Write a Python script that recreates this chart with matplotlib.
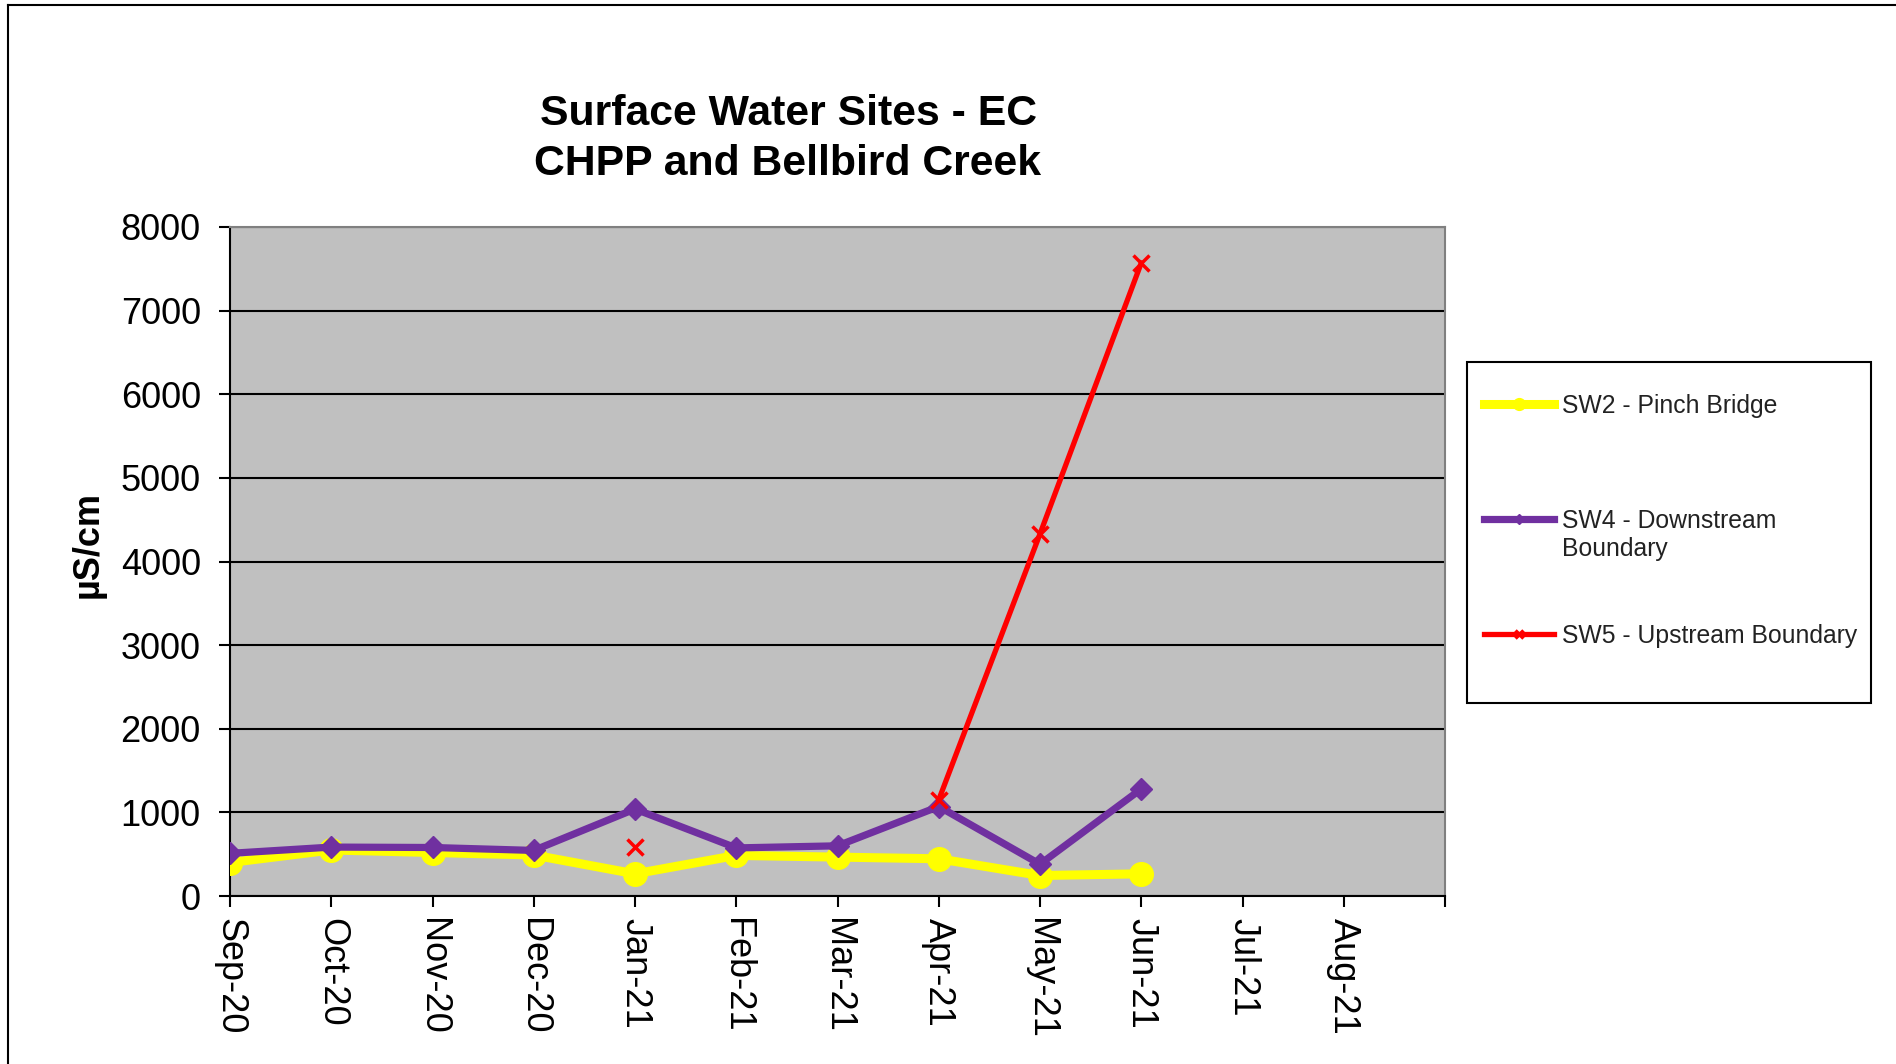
import matplotlib.pyplot as plt
import numpy as np
from matplotlib.patches import Rectangle
from matplotlib.lines import Line2D

plt.rcParams['font.family'] = ['Liberation Sans', 'DejaVu Sans']

months = ['Sep-20', 'Oct-20', 'Nov-20', 'Dec-20', 'Jan-21', 'Feb-21',
          'Mar-21', 'Apr-21', 'May-21', 'Jun-21', 'Jul-21', 'Aug-21']
sw2 = [400, 550, 520, 490, 265, 485, 465, 445, 245, 265, np.nan, np.nan]
sw4 = [510, 585, 580, 545, 1040, 575, 600, 1070, 380, 1280, np.nan, np.nan]
sw5 = [np.nan, np.nan, np.nan, np.nan, 590, np.nan, np.nan, 1150, 4330, 7570, np.nan, np.nan]
yticks = [0, 1000, 2000, 3000, 4000, 5000, 6000, 7000, 8000]
leg_labels = ['SW2 - Pinch Bridge', 'SW4 - Downstream', 'SW5 - Upstream Boundary']

W, H = 1896, 1064
fig = plt.figure(figsize=(W / 100, H / 100), dpi=100)

# outer chart border
fig.add_artist(Line2D([8 / W, 8 / W], [0, 1 - 5 / H], color='black', lw=1.5))
fig.add_artist(Line2D([8 / W, 1], [1 - 5 / H, 1 - 5 / H], color='black', lw=1.5))

ax = fig.add_axes([230 / W, 1 - 896 / H, 1215 / W, 669 / H])
ax.set_facecolor('#C0C0C0')

x = np.arange(len(months))
l2, = ax.plot(x, sw2, color='#FFFF00', lw=6.5, marker='o', ms=17, zorder=3)
l4, = ax.plot(x, sw4, color='#7030A0', lw=5.2, marker='D', ms=11, zorder=4)
l5, = ax.plot(x, sw5, color='#FF0000', lw=3.8, marker='x', ms=12, mew=2.5, zorder=5)

ax.set_xlim(0, len(months))
ax.set_ylim(0, 8000)
ax.set_yticks(yticks)
ax.tick_params(axis='y', labelsize=26, length=8, width=1.5, direction='out', pad=13)
ax.set_xticks(np.arange(len(months) + 1))
ax.set_xticklabels(months + [''], rotation=-90, fontsize=26)
ax.tick_params(axis='x', length=8, width=1.5, direction='out', pad=8)
ax.grid(axis='y', color='black', lw=1.5)
ax.set_axisbelow(True)
for s in ['top', 'right']:
    ax.spines[s].set_color('#808080')
    ax.spines[s].set_linewidth(1.5)
for s in ['left', 'bottom']:
    ax.spines[s].set_linewidth(1.5)

ax.set_ylabel('µS/cm', fontsize=26, fontweight='bold')
ax.yaxis.set_label_coords(-0.102, 0.526)

fig.text(788 / W, 1 - 139 / H, 'Surface Water Sites - EC\nCHPP and Bellbird Creek',
         ha='center', va='center', fontsize=30.8, fontweight='bold', linespacing=1.32)

# legend box
fig.add_artist(Rectangle((1467 / W, 1 - 703 / H), 404 / W, 341 / H,
                         facecolor='white', edgecolor='black', lw=1.5))
leg = fig.legend([l2, l4, l5], leg_labels, loc='upper left',
                 bbox_to_anchor=(1484 / W, 1 - 394 / H),
                 frameon=False, fontsize=17.8, handlelength=2.85, handletextpad=0.3,
                 labelspacing=3.68, markerscale=0.5, borderpad=0, borderaxespad=0)
for t in leg.get_texts():
    t.set_color('#222222')

# second line of the SW4 legend label
fig.canvas.draw()
bb = leg.get_texts()[1].get_window_extent()
fig.text(bb.x0 / W, (bb.y0 - 28) / H, 'Boundary', fontsize=17.8, color='#222222',
         ha='left', va='bottom')

fig.savefig('out.png', dpi=100)
